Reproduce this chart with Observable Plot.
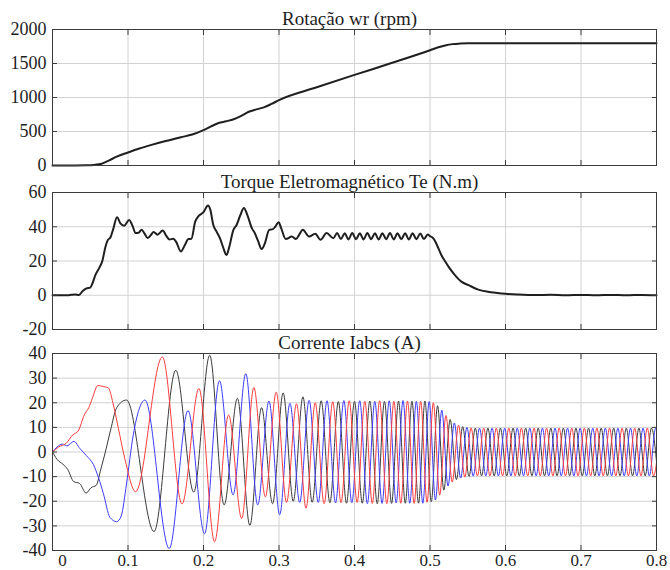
<!DOCTYPE html>
<html><head><meta charset="utf-8">
<script src="https://cdn.jsdelivr.net/npm/d3@7"></script>
<script src="https://cdn.jsdelivr.net/npm/@observablehq/plot@0.6"></script>
<style>
body{margin:0;background:#fff;}
#chart{position:relative;width:670px;height:570px;overflow:hidden;background:#fff;}
#chart svg{position:absolute;left:0;overflow:visible !important;font-family:"Liberation Serif","Times New Roman",serif !important;}
#chart svg text{font-family:"Liberation Serif","Times New Roman",serif !important;}
</style></head><body><div id="chart"></div>
<script>
// ---- axis ticks / labels ----
const timeTicks = [0, 0.1, 0.2, 0.3, 0.4, 0.5, 0.6, 0.7, 0.8];
const timeLabels = ["0", "0.1", "0.2", "0.3", "0.4", "0.5", "0.6", "0.7", "0.8"];
const speedTicks = [0, 500, 1000, 1500, 2000];
const torqueTicks = [-20, 0, 20, 40, 60];
const currentTicks = [-40, -30, -20, -10, 0, 10, 20, 30, 40];
const titles = ["Rotação wr (rpm)", "Torque Eletromagnético Te (N.m)", "Corrente Iabcs (A)"];

// ---- speed wr (rpm) ----
const speedTime = [0, 0.03, 0.045, 0.055, 0.065, 0.075, 0.085, 0.1, 0.115, 0.13, 0.15, 0.17, 0.185, 0.2, 0.21, 0.22, 0.23, 0.24, 0.25, 0.26, 0.27, 0.28, 0.29, 0.3, 0.35, 0.4, 0.45, 0.5, 0.51, 0.52, 0.53, 0.54, 0.55, 0.57, 0.6, 0.7, 0.8];
const speedRpm  = [0, 0, 2, 8, 25, 75, 130, 192, 250, 300, 360, 415, 455, 520, 575, 625, 650, 680, 730, 790, 825, 855, 905, 962, 1150, 1332, 1510, 1695, 1735, 1765, 1785, 1793, 1797, 1798, 1798, 1798, 1798];

// ---- electromagnetic torque Te (N.m) ----
const torqueTime = [0, 0.02, 0.025, 0.03, 0.035, 0.04, 0.045, 0.05, 0.053, 0.057, 0.062, 0.066, 0.07, 0.073, 0.077, 0.08, 0.0855, 0.09, 0.095, 0.1015, 0.106, 0.11, 0.114, 0.118, 0.122, 0.126, 0.13, 0.134, 0.139, 0.146, 0.151, 0.155, 0.16, 0.164, 0.17, 0.175, 0.18, 0.184, 0.189, 0.193, 0.2, 0.206, 0.209, 0.213, 0.2175, 0.222, 0.226, 0.2305, 0.234, 0.2395, 0.244, 0.249, 0.2535, 0.258, 0.264, 0.268, 0.272, 0.277, 0.281, 0.287, 0.292, 0.295, 0.2995, 0.303, 0.309, 0.317, 0.3225, 0.327, 0.3315, 0.34, 0.348, 0.355, 0.363, 0.372, 0.377, 0.382, 0.387, 0.392, 0.397, 0.402, 0.407, 0.412, 0.417, 0.422, 0.427, 0.432, 0.437, 0.442, 0.447, 0.452, 0.457, 0.462, 0.467, 0.472, 0.477, 0.482, 0.487, 0.492, 0.497, 0.5, 0.503, 0.507, 0.511, 0.515, 0.52, 0.5245, 0.533, 0.542, 0.551, 0.564, 0.577, 0.595, 0.617, 0.64, 0.66, 0.68, 0.7, 0.72, 0.74, 0.76, 0.78, 0.8];
const torqueNm   = [0, 0, 0.3, 0.5, 0.2, 2.5, 4, 4.5, 7, 12, 16, 20, 28, 32, 34, 38, 45.5, 42, 40.6, 44, 40.5, 36.3, 36.5, 38.2, 36, 33.4, 35, 37, 35.4, 37.8, 34.5, 32.5, 33, 31, 25.5, 29, 32.8, 33, 43, 46, 48.5, 52.4, 50, 41, 37, 33, 28, 23.5, 28, 38, 41.2, 47, 51, 47, 39.2, 36.3, 32, 27, 30, 38.2, 38.6, 40, 42.7, 39, 32.8, 34.3, 32.8, 35.5, 38.2, 34.3, 35.9, 32.4, 36.3, 33.3, 36.3, 32.8, 36.2, 32.6, 36.3, 32.7, 36.2, 32.6, 36.3, 32.7, 36.2, 32.6, 36.2, 32.7, 36.3, 32.6, 36.2, 32.7, 36.2, 32.6, 36.2, 32.7, 36.1, 32.8, 35.5, 34.5, 33.8, 31.4, 27.5, 23.5, 19.8, 16.7, 11.8, 7.8, 5.9, 3.3, 2, 1, 0.4, 0.1, 0.3, 0, 0.2, 0, 0.2, 0, 0.2, 0];

// ---- phase currents (A): start-up shape then successive peaks/troughs ----
const blackT = [0, 0.006, 0.014, 0.02, 0.028, 0.036, 0.0445, 0.051, 0.058, 0.064, 0.07, 0.077, 0.085, 0.098, 0.1345, 0.1633, 0.1871, 0.2082, 0.2273, 0.2449, 0.2614, 0.2769, 0.2915, 0.3055, 0.3189, 0.3317, 0.344, 0.3559, 0.3674, 0.3786, 0.3894, 0.4, 0.4103, 0.4203, 0.4301, 0.4397, 0.4491, 0.4583, 0.4673, 0.4761, 0.4848, 0.4933, 0.5017, 0.51, 0.5183, 0.5267, 0.535, 0.5433, 0.5517, 0.56, 0.5683, 0.5767, 0.585, 0.5933, 0.6017, 0.61, 0.6183, 0.6267, 0.635, 0.6433, 0.6517, 0.66, 0.6683, 0.6767, 0.685, 0.6933, 0.7017, 0.71, 0.7183, 0.7267, 0.735, 0.7433, 0.7517, 0.76, 0.7683, 0.7767, 0.785, 0.7933, 0.8017];
const blackI = [0, -3, -5, -7, -12, -12.8, -16.7, -14.5, -13.5, -7, 0, 9, 18, 21.1, -32.3, 33.2, -16.3, 39.3, -21.5, 21.8, -29.8, 18, -21, 24, -20, 22.4, -20.4, 20.8, -20.6, 20.5, -20.8, 20.6, -20.8, 20.7, -21, 20.6, -20.9, 20.7, -20.8, 20.6, -20.8, 20.7, -20.2, 18.8, -15.5, 13.2, -11.2, 10.3, -9.9, 9.7, -9.7, 9.7, -9.7, 9.7, -9.7, 9.7, -9.7, 9.7, -9.7, 9.7, -9.7, 9.7, -9.7, 9.7, -9.7, 9.7, -9.7, 9.7, -9.7, 9.7, -9.7, 9.7, -9.7, 9.7, -9.7, 9.7, -9.7, 9.7, -9.7];

const redT = [0, 0.008, 0.018, 0.027, 0.034, 0.042, 0.048, 0.053, 0.06, 0.067, 0.074, 0.08, 0.087, 0.096, 0.11, 0.1455, 0.1716, 0.194, 0.2147, 0.2333, 0.2506, 0.2667, 0.2819, 0.2963, 0.31, 0.3232, 0.3358, 0.348, 0.3598, 0.3712, 0.3822, 0.393, 0.4035, 0.4137, 0.4236, 0.4333, 0.4428, 0.4522, 0.4613, 0.4702, 0.479, 0.4876, 0.4961, 0.5044, 0.5128, 0.5211, 0.5294, 0.5378, 0.5461, 0.5544, 0.5628, 0.5711, 0.5794, 0.5878, 0.5961, 0.6044, 0.6128, 0.6211, 0.6294, 0.6378, 0.6461, 0.6544, 0.6628, 0.6711, 0.6794, 0.6878, 0.6961, 0.7044, 0.7128, 0.7211, 0.7294, 0.7378, 0.7461, 0.7544, 0.7628, 0.7711, 0.7794, 0.7878, 0.7961, 0.8044];
const redI = [0, 2, 3.5, 7, 8.5, 15, 18, 22, 27, 26.6, 26, 20, 10, -3, -16.1, 38.6, -21.1, 25.8, -36.4, 15, -27, 26.2, -18.2, 24.3, -20.5, 19.6, -22.8, 20, -21, 20.4, -20.6, 20.8, -20.5, 20.6, -20.9, 20.8, -21, 20.6, -20.8, 20.7, -20.9, 20.6, -20.4, 20, -17.5, 14.8, -12.2, 10.9, -10.2, 9.8, -9.7, 9.7, -9.7, 9.7, -9.7, 9.7, -9.7, 9.7, -9.7, 9.7, -9.7, 9.7, -9.7, 9.7, -9.7, 9.7, -9.7, 9.7, -9.7, 9.7, -9.7, 9.7, -9.7, 9.7, -9.7, 9.7, -9.7, 9.7, -9.7, 9.7];

const blueT = [0, 0.006, 0.013, 0.019, 0.0285, 0.036, 0.045, 0.054, 0.061, 0.0675, 0.076, 0.085, 0.091, 0.098, 0.107, 0.1225, 0.1546, 0.1795, 0.2014, 0.2211, 0.2392, 0.256, 0.2718, 0.2867, 0.3009, 0.3145, 0.3274, 0.3399, 0.352, 0.3636, 0.3749, 0.3859, 0.3965, 0.4069, 0.417, 0.4269, 0.4365, 0.446, 0.4552, 0.4643, 0.4732, 0.4819, 0.4905, 0.4989, 0.5072, 0.5156, 0.5239, 0.5322, 0.5406, 0.5489, 0.5572, 0.5656, 0.5739, 0.5822, 0.5906, 0.5989, 0.6072, 0.6156, 0.6239, 0.6322, 0.6406, 0.6489, 0.6572, 0.6656, 0.6739, 0.6822, 0.6906, 0.6989, 0.7072, 0.7156, 0.7239, 0.7322, 0.7406, 0.7489, 0.7572, 0.7656, 0.7739, 0.7822, 0.7906, 0.7989, 0.8072];
const blueI = [0, 2, 3.2, 2.5, 4.3, 1.5, -1.5, -5, -10.5, -17, -26.5, -28.3, -26, -13, 7, 21.1, -39.2, 16.8, -33.2, 28.9, -17.4, 31.8, -21.5, 20.7, -25.5, 19.8, -20.5, 21, -20.5, 20.8, -20.7, 20.9, -20.6, 20.8, -21, 20.6, -20.9, 20.8, -20.7, 20.9, -20.8, 20.6, -20.8, 20.5, -19.5, 17, -13.8, 11.8, -10.6, 10, -9.8, 9.7, -9.7, 9.7, -9.7, 9.7, -9.7, 9.7, -9.7, 9.7, -9.7, 9.7, -9.7, 9.7, -9.7, 9.7, -9.7, 9.7, -9.7, 9.7, -9.7, 9.7, -9.7, 9.7, -9.7, 9.7, -9.7, 9.7, -9.7, 9.7, -9.7];

// ---- build ----
const rows = (T, V) => T.map((t, i) => ({t, v: V[i]}));
const FONT = '"Liberation Serif", "Times New Roman", serif';
const INK = "#1e1e1e", FRAME = "#3c3c3c", GRID = "#d2d2d2";
const fmt = d => String(d);
const labelOf = d => timeLabels[timeTicks.indexOf(d)];
// inward tick marks only (no labels)
const ticksOnly = {tickSize: -5, fill: "none", stroke: FRAME, label: null};
// labels only (no tick marks)
const labelsOnly = {tickSize: 0, stroke: "none", fill: INK, fontSize: 18, label: null};

function panel({top, height, marginTop, marginBottom, yDomain, yTicks, title, marks, xLabels}) {
  const fig = Plot.plot({
    width: 670, height, marginLeft: 52, marginRight: 14, marginTop, marginBottom,
    style: {fontFamily: FONT, fontSize: "18px", color: INK, background: "transparent", overflow: "visible"},
    x: {domain: [0, 0.8]},
    y: {domain: yDomain},
    marks: [
      Plot.gridX(timeTicks, {stroke: GRID, strokeOpacity: 1}),
      Plot.gridY(yTicks, {stroke: GRID, strokeOpacity: 1}),
      ...marks,
      Plot.frame({stroke: FRAME}),
      Plot.axisY(yTicks, {anchor: "left", ...ticksOnly}),
      Plot.axisY(yTicks, {anchor: "right", ...ticksOnly}),
      Plot.axisX(timeTicks, {anchor: "bottom", ...ticksOnly}),
      Plot.axisX(timeTicks, {anchor: "top", ...ticksOnly}),
      Plot.axisY(yTicks, {anchor: "left", ...labelsOnly, tickPadding: 6, tickFormat: fmt}),
      ...(xLabels ? [
        Plot.axisX([timeTicks[0]], {anchor: "bottom", ...labelsOnly, fontSize: 17, tickPadding: 3, dx: 10, tickFormat: labelOf}),
        Plot.axisX(timeTicks.slice(1), {anchor: "bottom", ...labelsOnly, fontSize: 17, tickPadding: 3, tickFormat: labelOf})
      ] : []),
      Plot.text([title], {frameAnchor: "top", lineAnchor: "bottom", dy: -5, dx: -5, fontSize: 19, fill: INK, text: d => d})
    ]
  });
  fig.style.top = top + "px";
  document.getElementById("chart").appendChild(fig);
}

panel({top: 0, height: 170, marginTop: 29, marginBottom: 5, yDomain: [0, 2000], yTicks: speedTicks, title: titles[0],
  marks: [Plot.line(rows(speedTime, speedRpm), {x: "t", y: "v", stroke: "#1f1f1f", strokeWidth: 2, curve: "monotone-x"})]});

panel({top: 170, height: 165, marginTop: 22, marginBottom: 6, yDomain: [-20, 60], yTicks: torqueTicks, title: titles[1],
  marks: [Plot.line(rows(torqueTime, torqueNm), {x: "t", y: "v", stroke: "#1f1f1f", strokeWidth: 2, curve: "monotone-x"})]});

panel({top: 335, height: 235, marginTop: 18, marginBottom: 20, yDomain: [-40, 40], yTicks: currentTicks, title: titles[2], xLabels: true,
  marks: [
    Plot.line(rows(blackT, blackI), {x: "t", y: "v", stroke: "#3a3a3a", strokeWidth: 1, curve: "monotone-x", clip: true}),
    Plot.line(rows(blueT, blueI), {x: "t", y: "v", stroke: "#3b3bff", strokeWidth: 1, curve: "monotone-x", clip: true}),
    Plot.line(rows(redT, redI), {x: "t", y: "v", stroke: "#ff3b3b", strokeWidth: 1, curve: "monotone-x", clip: true})
  ]});
</script>
</body></html>
